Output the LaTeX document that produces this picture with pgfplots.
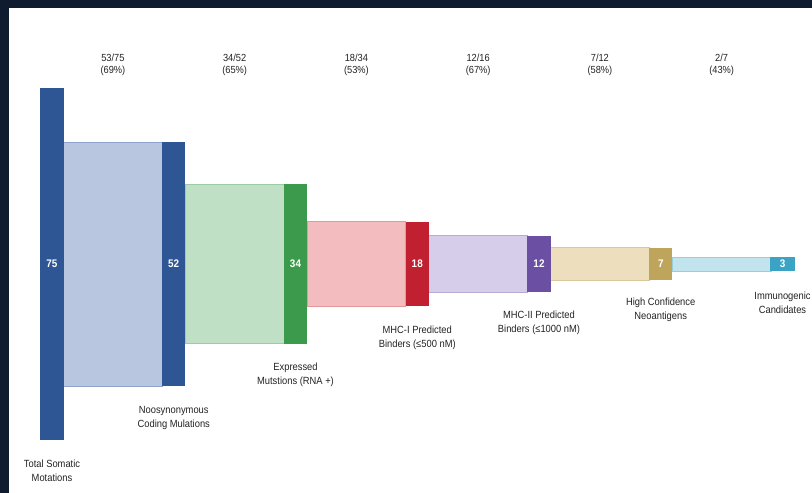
\documentclass[border=0pt]{standalone}
\usepackage{pgfplots}
\pgfplotsset{compat=1.18}
\usepackage{fontspec}
\setmainfont{Liberation Sans}[FakeStretch=0.9]
\definecolor{frame}{HTML}{0F1B2E}
\definecolor{navy}{HTML}{2E5594}
\definecolor{bandA}{HTML}{B9C6E0}\definecolor{edgeA}{HTML}{8FA3CC}
\definecolor{grn}{HTML}{3C9A4C}
\definecolor{bandB}{HTML}{BFE0C4}\definecolor{edgeB}{HTML}{9CCBA4}
\definecolor{red}{HTML}{C0202F}
\definecolor{bandC}{HTML}{F3BCBE}\definecolor{edgeC}{HTML}{E09A9E}
\definecolor{purp}{HTML}{6B4FA3}
\definecolor{bandD}{HTML}{D6CDEB}\definecolor{edgeD}{HTML}{B7A9D8}
\definecolor{gold}{HTML}{BFA55C}
\definecolor{bandE}{HTML}{EDDFBD}\definecolor{edgeE}{HTML}{D9C79A}
\definecolor{teal}{HTML}{3BA3C3}
\definecolor{bandF}{HTML}{C2E4EE}\definecolor{edgeF}{HTML}{98CEDD}
\definecolor{txt}{HTML}{222222}
\begin{document}
\begin{tikzpicture}
\begin{axis}[scale only axis, width=812pt, height=493pt,
  xmin=-0.4271, xmax=6.2423, ymin=-48.80, ymax=56.25,
  hide axis, clip=false]
\path (rel axis cs:0,0) rectangle (rel axis cs:1,1);
\fill[frame] (rel axis cs:0,0) rectangle (rel axis cs:0.0111,1);
\fill[frame] (rel axis cs:0,1) rectangle (rel axis cs:1,0.9838);
% bands
\addplot[fill=bandA, draw=edgeA, line width=0.8pt] coordinates {(0.095,-26) (0.905,-26) (0.905,26) (0.095,26)} -- cycle;
\addplot[fill=bandB, draw=edgeB, line width=0.8pt] coordinates {(1.095,-17) (1.905,-17) (1.905,17) (1.095,17)} -- cycle;
\addplot[fill=bandC, draw=edgeC, line width=0.8pt] coordinates {(2.095,-9) (2.905,-9) (2.905,9) (2.095,9)} -- cycle;
\addplot[fill=bandD, draw=edgeD, line width=0.8pt] coordinates {(3.095,-6) (3.905,-6) (3.905,6) (3.095,6)} -- cycle;
\addplot[fill=bandE, draw=edgeE, line width=0.8pt] coordinates {(4.095,-3.5) (4.905,-3.5) (4.905,3.5) (4.095,3.5)} -- cycle;
\addplot[fill=bandF, draw=edgeF, line width=0.8pt] coordinates {(5.095,-1.5) (5.905,-1.5) (5.905,1.5) (5.095,1.5)} -- cycle;
% bars
\addplot[fill=navy, draw=none] coordinates {(-0.095,-37.5) (0.095,-37.5) (0.095,37.5) (-0.095,37.5)} -- cycle;
\addplot[fill=navy, draw=none] coordinates {(0.905,-26) (1.095,-26) (1.095,26) (0.905,26)} -- cycle;
\addplot[fill=grn, draw=none] coordinates {(1.905,-17) (2.095,-17) (2.095,17) (1.905,17)} -- cycle;
\addplot[fill=red, draw=none] coordinates {(2.905,-9) (3.095,-9) (3.095,9) (2.905,9)} -- cycle;
\addplot[fill=purp, draw=none] coordinates {(3.905,-6) (4.095,-6) (4.095,6) (3.905,6)} -- cycle;
\addplot[fill=gold, draw=none] coordinates {(4.905,-3.5) (5.095,-3.5) (5.095,3.5) (4.905,3.5)} -- cycle;
\addplot[fill=teal, draw=none] coordinates {(5.9,-1.5) (6.1,-1.5) (6.1,1.5) (5.9,1.5)} -- cycle;
% values inside bars
\begin{scope}[every node/.style={text=white, font=\bfseries\fontsize{11}{12}\selectfont}]
\node at (axis cs:0,0) {75};
\node at (axis cs:1,0) {52};
\node at (axis cs:2,0) {34};
\node at (axis cs:3,0) {18};
\node at (axis cs:4,0) {12};
\node at (axis cs:5,0) {7};
\node at (axis cs:6,0) {3};
\end{scope}
% top conversion labels
\begin{scope}[every node/.style={text=txt, align=center, font=\fontsize{10.3}{12.5}\selectfont}]
\node at (axis cs:0.5,42.4) {53/75\\(69\%)};
\node at (axis cs:1.5,42.4) {34/52\\(65\%)};
\node at (axis cs:2.5,42.4) {18/34\\(53\%)};
\node at (axis cs:3.5,42.4) {12/16\\(67\%)};
\node at (axis cs:4.5,42.4) {7/12\\(58\%)};
\node at (axis cs:5.5,42.4) {2/7\\(43\%)};
\end{scope}
% category labels
\begin{scope}[every node/.style={text=txt, align=center, anchor=north, inner sep=0pt, font=\fontsize{10.4}{14}\selectfont}]
\node at (axis cs:0,-41.7) {Total Somatic\\Motations};
\node at (axis cs:1,-30.2) {Noosynonymous\\Coding Mulations};
\node at (axis cs:2,-21.0) {Expressed\\Mutstions (RNA +)};
\node at (axis cs:3,-13.2) {MHC-I Predicted\\Binders (≤500 nM)};
\node at (axis cs:4,-10.0) {MHC-II Predicted\\Binders (≤1000 nM)};
\node at (axis cs:5,-7.3) {High Confidence\\Neoantigens};
\node at (axis cs:6,-5.9) {Immunogenic\\Candidates};
\end{scope}
\end{axis}
\end{tikzpicture}
\end{document}
